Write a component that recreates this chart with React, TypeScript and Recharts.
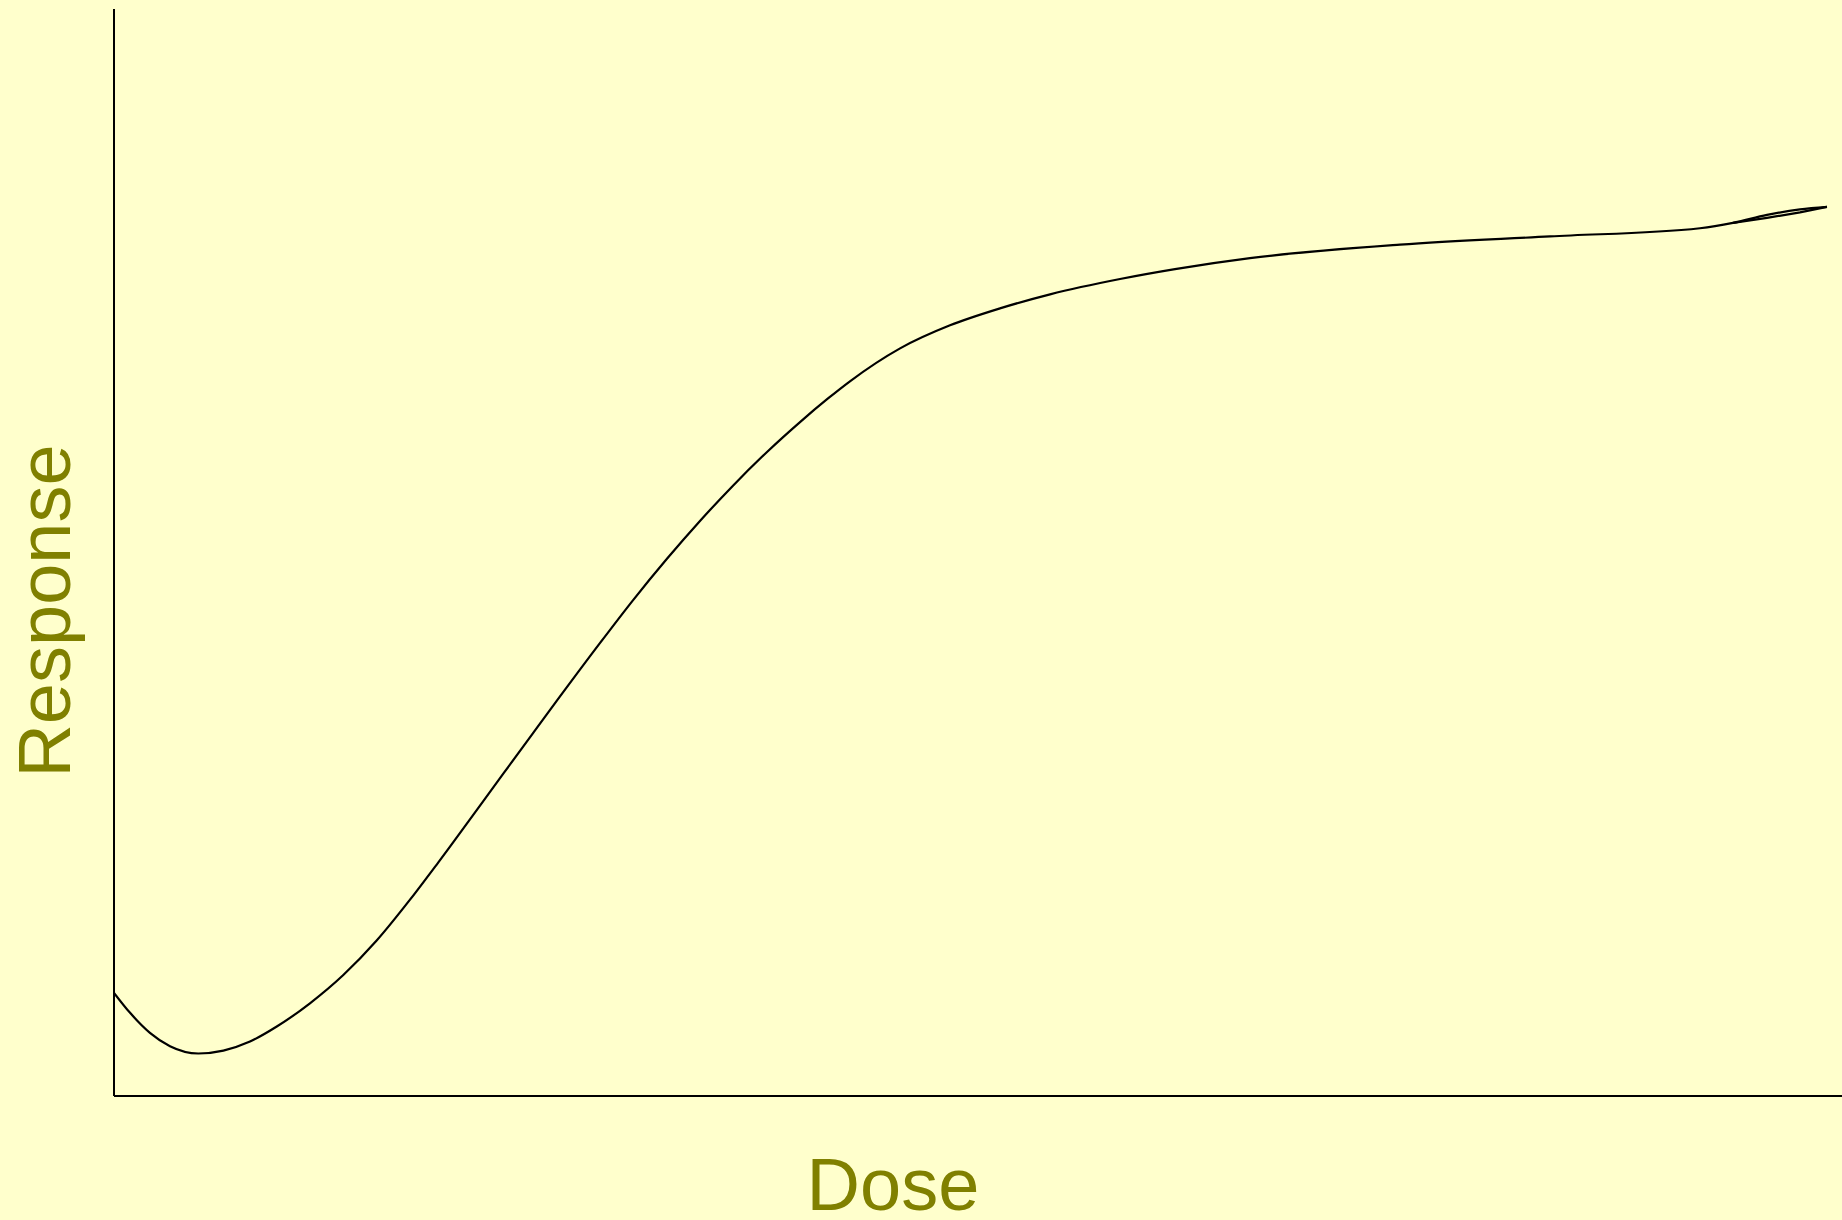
import React from 'react';
import { LineChart, Line, XAxis, YAxis } from 'recharts';

// Dose values (0-100 scale) and response values (0-100 scale)
const doseMain = [0, 0.93, 2.08, 3.24, 4.88, 6.33, 7.87, 9.42, 11.34, 13.27, 15.2, 17.13, 18.77, 21.35, 24.25, 25.64, 28.13, 30.03, 32.0, 33.91, 35.82, 37.79, 39.7, 41.32, 42.59, 45.49, 48.38, 51.27, 54.17, 58.22, 61.4, 65.74, 74.42, 83.1, 91.78, 93.69, 95.66, 97.57, 99.13];
const respMain = [9.49, 7.65, 5.81, 4.58, 3.91, 4.18, 5.01, 6.39, 8.53, 11.13, 14.3, 18.06, 21.5, 27.09, 33.39, 36.39, 41.68, 45.6, 49.42, 52.9, 56.15, 59.25, 62.0, 64.17, 65.75, 68.78, 70.9, 72.46, 73.75, 75.16, 76.07, 77.08, 78.32, 79.08, 79.83, 80.32, 81.06, 81.56, 81.79];

// return branch of the small loop at the right end
const doseBack = [99.13, 97.57, 95.66, 93.69];
const respBack = [81.79, 81.29, 80.78, 80.32];

const xLabel = 'Dose';
const yLabel = 'Response';

const mainData = doseMain.map((x, i) => ({ x, y: respMain[i] }));
const backData = doseBack.map((x, i) => ({ x, y: respBack[i] }));

const labelColor = '#808000';
const bg = '#FFFFCC';

export default function App() {
  return (
    <div style={{ position: 'absolute', left: 0, top: 0, width: 1842, height: 1220, background: bg, overflow: 'hidden' }}>
      <LineChart width={1842} height={1220} margin={{ top: 9, right: 0, bottom: 123, left: 113 }}>
        <XAxis
          type="number"
          dataKey="x"
          domain={[0, 100]}
          allowDataOverflow
          height={1}
          tick={false}
          tickLine={false}
          axisLine={{ stroke: '#000', strokeWidth: 2 }}
        />
        <YAxis
          type="number"
          dataKey="y"
          domain={[0, 100]}
          allowDataOverflow
          width={1}
          tick={false}
          tickLine={false}
          axisLine={{ stroke: '#000', strokeWidth: 2 }}
        />
        <Line data={mainData} dataKey="y" type="monotone" stroke="#000" strokeWidth={2.2} dot={false} isAnimationActive={false} />
        <Line data={backData} dataKey="y" type="linear" stroke="#000" strokeWidth={2.2} dot={false} isAnimationActive={false} />
        <text x={893} y={1210} textAnchor="middle" fill={labelColor} fontFamily="'Liberation Sans', Arial, sans-serif" fontSize={74}>
          {xLabel}
        </text>
        <text x={70} y={611} textAnchor="middle" fill={labelColor} fontFamily="'Liberation Sans', Arial, sans-serif" fontSize={74} transform="rotate(-90 70 611)">
          {yLabel}
        </text>
      </LineChart>
    </div>
  );
}
